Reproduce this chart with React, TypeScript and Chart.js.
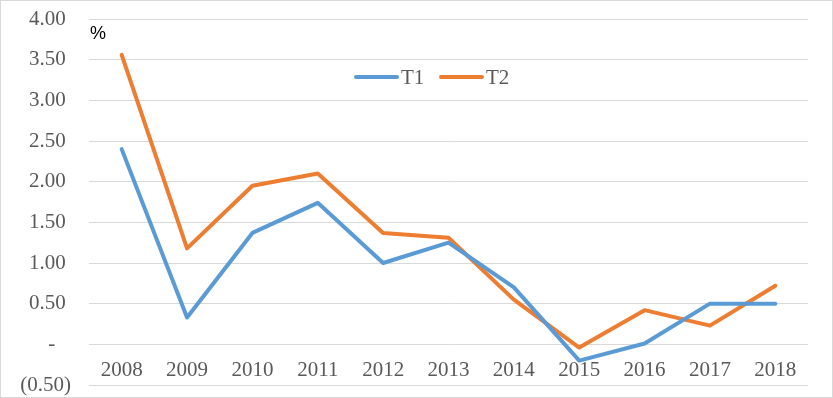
import React, { useEffect, useRef } from "react";
import { Chart, registerables } from "chart.js";

Chart.register(...registerables);

const years = ["2008", "2009", "2010", "2011", "2012", "2013", "2014", "2015", "2016", "2017", "2018"];
const t1Values = [2.40, 0.33, 1.37, 1.74, 1.00, 1.25, 0.70, -0.20, 0.01, 0.50, 0.50];
const t2Values = [3.56, 1.18, 1.95, 2.10, 1.37, 1.31, 0.55, -0.04, 0.42, 0.23, 0.72];
const seriesNames = ["T1", "T2"];
const seriesColors = ["#5B9BD5", "#ED7D31"];
const unitLabel = "%";
const yMin = -0.5;
const yMax = 4;
const yStep = 0.5;

const FONT = "'Liberation Serif', 'Times New Roman', serif";
const TEXT = "#595959";
const NBSP = "\u00A0";

function formatTick(v: number): string {
  if (Math.abs(v) < 1e-9) return "-" + NBSP + NBSP + NBSP;
  if (v < 0) return "(" + Math.abs(v).toFixed(2) + ")";
  return v.toFixed(2) + NBSP;
}

const decorPlugin = {
  id: "decor",
  beforeDraw(chart: any) {
    const { ctx, width, height } = chart;
    ctx.save();
    ctx.fillStyle = "#ffffff";
    ctx.fillRect(0, 0, width, height);
    ctx.restore();
  },
  afterDraw(chart: any) {
    const { ctx, width, height } = chart;
    ctx.save();
    ctx.strokeStyle = "#d9d9d9";
    ctx.lineWidth = 1;
    ctx.strokeRect(0.5, 0.5, width - 1, height - 1);

    // unit label
    ctx.fillStyle = "#000000";
    ctx.font = "18px 'Liberation Sans', Arial, sans-serif";
    ctx.textAlign = "left";
    ctx.textBaseline = "middle";
    ctx.fillText(unitLabel, 90, 34);

    // legend
    const y = 77;
    let x = 356;
    ctx.font = "21px " + FONT;
    chart.data.datasets.forEach((ds: any) => {
      ctx.strokeStyle = ds.borderColor;
      ctx.lineWidth = 4;
      ctx.lineCap = "round";
      ctx.beginPath();
      ctx.moveTo(x, y);
      ctx.lineTo(x + 41, y);
      ctx.stroke();
      ctx.fillStyle = TEXT;
      ctx.textAlign = "left";
      ctx.textBaseline = "middle";
      ctx.fillText(ds.label, x + 45, y + 1);
      x += 85;
    });
    ctx.restore();
  },
};

export default function App() {
  const ref = useRef<HTMLCanvasElement | null>(null);

  useEffect(() => {
    document.body.style.margin = "0";
    const canvas = ref.current;
    if (!canvas) return;
    const chart = new Chart(canvas, {
      type: "line",
      data: {
        labels: years,
        datasets: [t1Values, t2Values].map((vals, i) => ({
          label: seriesNames[i],
          data: vals,
          borderColor: seriesColors[i],
          backgroundColor: seriesColors[i],
          borderWidth: 4,
          pointRadius: 0,
          pointHoverRadius: 0,
          tension: 0,
          fill: false,
          borderCapStyle: "round",
          borderJoinStyle: "round",
        })),
      },
      options: {
        responsive: false,
        animation: false,
        layout: { padding: { top: 19, right: 25, bottom: 13, left: 0 } },
        plugins: {
          legend: { display: false },
          tooltip: { enabled: false },
        },
        scales: {
          x: {
            type: "category",
            offset: true,
            position: { y: 0 } as any,
            grid: { display: false, drawTicks: false },
            border: { display: false },
            ticks: {
              color: TEXT,
              font: { family: FONT, size: 21 },
              padding: 14,
              maxRotation: 0,
              autoSkip: false,
            },
            afterFit(scale: any) {
              scale.height = 0;
              scale.paddingLeft = 0;
              scale.paddingRight = 0;
            },
          },
          y: {
            min: yMin,
            max: yMax,
            grid: { color: "#d9d9d9", lineWidth: 1, drawTicks: false },
            border: { display: false },
            ticks: {
              stepSize: yStep,
              color: TEXT,
              font: { family: FONT, size: 21 },
              padding: 18,
              callback: (v: any) => formatTick(Number(v)),
            },
            afterFit(scale: any) {
              scale.width = 89;
              scale.paddingTop = 0;
              scale.paddingBottom = 0;
            },
          },
        },
      },
      plugins: [decorPlugin],
    } as any);
    return () => chart.destroy();
  }, []);

  return (
    <div style={{ position: "relative", width: 833, height: 398 }}>
      <canvas ref={ref} width={833} height={398} style={{ display: "block", width: 833, height: 398 }} />
    </div>
  );
}
